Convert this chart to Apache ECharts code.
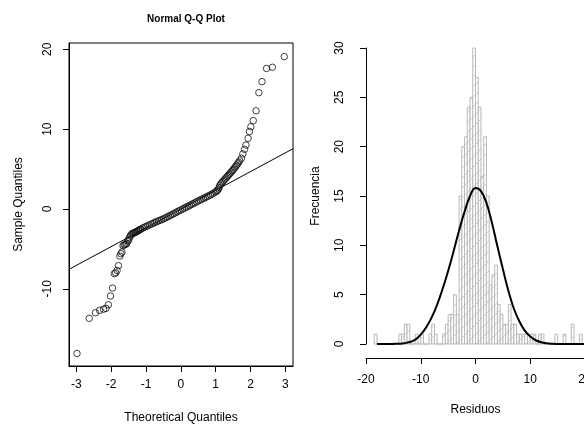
<!DOCTYPE html>
<html>
<head>
<meta charset="utf-8">
<script src="https://cdn.jsdelivr.net/npm/echarts@6/dist/echarts.min.js"></script>
<style>
  html, body { margin: 0; padding: 0; background: #fff; }
  #chart { width: 584px; height: 428px; }
</style>
</head>
<body>
<div id="chart"></div>
<script>
// Q-Q plot: [theoretical, sample] pairs
const qqLowTail = [
  [-2.98, -18.1], [-2.63, -13.7], [-2.45, -13.0], [-2.33, -12.7], [-2.22, -12.55],
  [-2.15, -12.45], [-2.08, -12.0], [-2.02, -10.9], [-1.96, -9.9], [-1.91, -8.1],
  [-1.87, -8.0], [-1.83, -7.7], [-1.79, -7.1], [-1.75, -5.9], [-1.72, -5.6],
  [-1.69, -5.4], [-1.66, -4.6], [-1.63, -4.5], [-1.60, -4.45], [-1.57, -4.4],
  [-1.55, -4.3], [-1.52, -4.0], [-1.50, -3.9], [-1.48, -3.6], [-1.45, -3.4],
  [-1.43, -3.25]
];
const qqBand = [
  [-1.40, -3.10], [-1.37, -3.04], [-1.35, -3.00], [-1.32, -2.95], [-1.30, -2.90],
  [-1.27, -2.84], [-1.25, -2.78], [-1.22, -2.71], [-1.20, -2.65], [-1.17, -2.58],
  [-1.15, -2.52], [-1.10, -2.40], [-1.05, -2.30], [-1.00, -2.20], [-0.95, -2.10],
  [-0.90, -2.00], [-0.85, -1.90], [-0.80, -1.80], [-0.75, -1.70], [-0.70, -1.60],
  [-0.65, -1.51], [-0.60, -1.42], [-0.55, -1.33], [-0.50, -1.25], [-0.45, -1.13],
  [-0.40, -1.02], [-0.35, -0.91], [-0.30, -0.80], [-0.25, -0.69], [-0.20, -0.58],
  [-0.15, -0.46], [-0.10, -0.35], [-0.05, -0.23], [0.00, -0.12], [0.05, -0.01],
  [0.10, 0.10], [0.15, 0.22], [0.20, 0.33], [0.25, 0.44], [0.30, 0.55],
  [0.35, 0.66], [0.40, 0.78], [0.45, 0.89], [0.50, 1.00], [0.55, 1.11],
  [0.60, 1.22], [0.65, 1.32], [0.70, 1.43], [0.75, 1.54], [0.80, 1.65],
  [0.85, 1.76], [0.90, 1.88], [0.95, 2.01], [1.00, 2.15], [1.03, 2.24],
  [1.05, 2.35], [1.08, 2.50], [1.10, 2.70]
];
const qqHighTail = [
  [1.12, 2.95], [1.15, 3.15], [1.18, 3.30], [1.21, 3.45], [1.24, 3.60],
  [1.27, 3.75], [1.30, 3.90], [1.33, 4.05], [1.36, 4.20], [1.39, 4.35],
  [1.42, 4.50], [1.45, 4.65], [1.48, 4.80], [1.51, 4.95], [1.54, 5.15],
  [1.57, 5.30], [1.60, 5.50], [1.63, 5.65], [1.66, 5.85], [1.69, 6.05],
  [1.74, 6.35], [1.78, 6.90], [1.83, 7.47], [1.87, 8.00], [1.93, 8.85],
  [1.97, 9.70], [2.01, 10.3], [2.08, 11.07], [2.16, 12.3], [2.24, 14.57],
  [2.33, 15.95], [2.46, 17.6], [2.63, 17.75], [2.97, 19.08]
];
// qqline
const qqLineSlope = 2.35;
const qqLineIntercept = -0.02;
const qqTicksX = [-3, -2, -1, 0, 1, 2, 3];
const qqTicksY = [-10, 0, 10, 20];

// Histogram of residuals: bins of 0.5 starting at -18.5
const histStart = -18.5;
const histWidth = 0.5;
const histCounts = [
  1, 0, 0, 0, 0, 0, 0, 0, 0,        // -18.5 .. -14.5
  1, 1, 2, 2, 0, 0, 1, 0, 1, 0,     // -14 .. -9.5
  0, 1, 2, 1, 0, 0, 1, 2, 3, 3,     // -9 .. -4.5
  5, 3, 15, 20, 21, 24, 25, 30,     // -4 .. -0.5
  27, 24, 17, 21, 15, 6, 7, 8,      // 0 .. 3.5
  4, 3, 2, 2, 4, 2, 2, 1,           // 4 .. 7.5
  1, 1, 1, 1, 1, 1, 0, 1, 1, 0,     // 8 .. 12.5
  0, 0, 0, 1, 0, 0, 1, 0, 0, 2,     // 13 .. 17.5
  0, 0, 1, 0                        // 18 .. 19.5
];
// normal curve drawn over the histogram, read at whole residual values
const curveX = [-18, -17, -16, -15, -14, -13, -12, -11, -10, -9, -8, -7, -6, -5, -4, -3, -2, -1,
  0, 1, 2, 3, 4, 5, 6, 7, 8, 9, 10, 11, 12, 13, 14, 15, 16, 17, 18, 19, 20];
const curveY = [0, 0, 0, 0.01, 0.03, 0.08, 0.2, 0.45, 0.95, 1.7, 2.7, 4.0, 5.6, 7.4, 9.4, 11.5, 13.4, 15.0,
  15.8, 15.5, 14.3, 12.3, 9.9, 7.6, 5.4, 3.6, 2.3, 1.35, 0.75, 0.38, 0.17, 0.07, 0.03, 0.01, 0, 0, 0, 0, 0];

const FONT = 'Liberation Sans, Arial, sans-serif';
const INK = '#000';

function hatchPattern() {
  const s = 10;
  const c = document.createElement('canvas');
  c.width = s; c.height = s;
  const ctx = c.getContext('2d');
  ctx.fillStyle = '#fff';
  ctx.fillRect(0, 0, s, s);
  ctx.strokeStyle = '#d0d0d0';
  ctx.lineWidth = 1;
  ctx.beginPath();
  ctx.moveTo(-1, s + 1); ctx.lineTo(s + 1, -1);
  ctx.moveTo(-1, 1); ctx.lineTo(1, -1);
  ctx.moveTo(s - 1, s + 1); ctx.lineTo(s + 1, s - 1);
  ctx.stroke();
  return { image: c, repeat: 'repeat' };
}

const hatch = hatchPattern();
const qqPoints = [...qqLowTail, ...qqBand, ...qqHighTail];
const histData = histCounts.map((n, i) => [histStart + i * histWidth, histStart + (i + 1) * histWidth, n]);
const curveData = curveX.map((x, i) => [x, curveY[i]]);

const axisText = { color: INK, fontSize: 12, fontFamily: FONT };
const axisLine = { show: true, onZero: false, lineStyle: { color: INK, width: 1 } };

const chart = echarts.init(document.getElementById('chart'));
chart.setOption({
  animation: false,
  backgroundColor: '#fff',
  title: {
    text: 'Normal Q-Q Plot',
    left: 181,
    top: 9,
    textAlign: 'center',
    textStyle: { fontSize: 10, fontWeight: 'bold', color: INK, fontFamily: FONT }
  },
  grid: [
    { left: 69, top: 43, width: 224, height: 323, outerBoundsMode: 'none', show: true, borderColor: INK, borderWidth: 1, backgroundColor: 'transparent' },
    { left: 366, top: 48, width: 219, height: 296, outerBoundsMode: 'none' }
  ],
  xAxis: [
    {
      gridIndex: 0, type: 'value', min: -3.21, max: 3.22,
      axisLine: axisLine,
      axisTick: { show: true, length: 6, customValues: qqTicksX, lineStyle: { color: INK } },
      axisLabel: { ...axisText, margin: 13, customValues: qqTicksX },
      splitLine: { show: false },
      name: 'Theoretical Quantiles', nameLocation: 'middle', nameGap: 46,
      nameTextStyle: axisText
    },
    {
      gridIndex: 1, type: 'value', min: -20, max: 20, interval: 10, offset: 14,
      axisLine: axisLine,
      axisTick: { show: true, length: 6, lineStyle: { color: INK } },
      axisLabel: { ...axisText, margin: 16 },
      splitLine: { show: false },
      name: 'Residuos', nameLocation: 'middle', nameGap: 46,
      nameTextStyle: axisText
    }
  ],
  yAxis: [
    {
      gridIndex: 0, type: 'value', min: -19.67, max: 20.79,
      axisLine: axisLine,
      axisTick: { show: true, length: 6, customValues: qqTicksY, lineStyle: { color: INK } },
      axisLabel: { ...axisText, rotate: 90, margin: 15, customValues: qqTicksY },
      splitLine: { show: false },
      name: 'Sample Quantiles', nameLocation: 'middle', nameGap: 44,
      nameTextStyle: axisText
    },
    {
      gridIndex: 1, type: 'value', min: 0, max: 30, interval: 5,
      axisLine: axisLine,
      axisTick: { show: true, length: 6, lineStyle: { color: INK } },
      axisLabel: { ...axisText, rotate: 90, margin: 20 },
      splitLine: { show: false },
      name: 'Frecuencia', nameLocation: 'middle', nameGap: 44,
      nameTextStyle: axisText
    }
  ],
  series: [
    {
      type: 'scatter', xAxisIndex: 0, yAxisIndex: 0,
      data: qqPoints,
      symbol: 'circle', symbolSize: 6.5,
      itemStyle: { color: 'rgba(0,0,0,0)', borderColor: '#111', borderWidth: 1 },
      z: 3
    },
    {
      type: 'line', xAxisIndex: 0, yAxisIndex: 0,
      data: [-3.21, 3.22].map(x => [x, qqLineIntercept + qqLineSlope * x]),
      symbol: 'none', clip: true,
      lineStyle: { color: INK, width: 1 },
      z: 2
    },
    {
      type: 'custom', xAxisIndex: 1, yAxisIndex: 1,
      data: histData,
      renderItem(params, api) {
        const p0 = api.coord([api.value(0), api.value(2)]);
        const p1 = api.coord([api.value(1), 0]);
        return {
          type: 'rect',
          shape: { x: p0[0], y: p0[1], width: p1[0] - p0[0], height: p1[1] - p0[1] },
          style: { fill: hatch, stroke: '#b8b8b8', lineWidth: 1 }
        };
      },
      z: 2
    },
    {
      type: 'line', xAxisIndex: 1, yAxisIndex: 1,
      data: curveData,
      smooth: 0.4, symbol: 'none',
      lineStyle: { color: INK, width: 2 },
      z: 3
    }
  ]
});
</script>
</body>
</html>
